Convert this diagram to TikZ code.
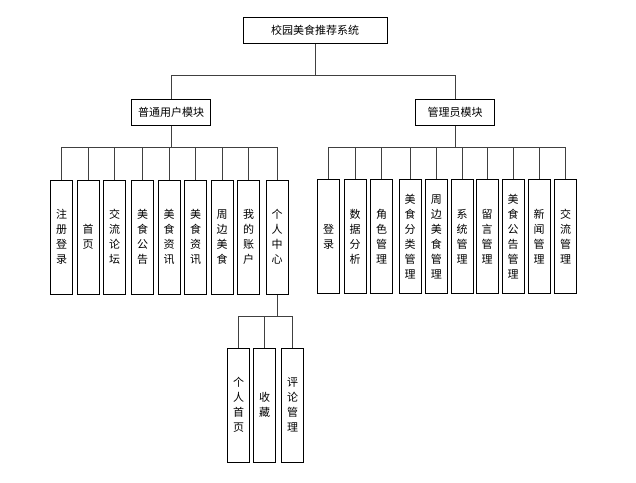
\documentclass[tikz,border=0pt]{standalone}
\usepackage{fontspec}
\newfontfamily\cjk{Noto Sans CJK SC}
\begin{document}
\begin{tikzpicture}[x=1pt,y=-1pt,
  box/.style={draw=black,line width=1pt,rectangle,inner sep=0pt,font=\cjk\fontsize{11}{15}\selectfont,align=center},
  topbox/.style={box,minimum width=144pt,minimum height=26pt},
  modbox/.style={box,minimum width=79pt,minimum height=26pt},
  leafbox/.style={box,minimum width=22pt,minimum height=114pt},
  conn/.style={draw=black!75,line width=0.9pt}]
\useasboundingbox (0,0) rectangle (636,482);
\node[topbox] (root) at (315,30.5) {校园美食推荐系统};
\node[modbox] (lm) at (171,112) {普通用户模块};
\node[modbox] (rm) at (455,112) {管理员模块};
\coordinate (topbus) at (315,75);
\coordinate (lbus) at (171,147);
\coordinate (rbus) at (455,147);
\coordinate (pbus) at (277,316);
% left children
\node[leafbox] (l1) at (61.5,237) {注\\册\\登\\录};
\node[leafbox] (l2) at (88,237) {首\\页};
\node[leafbox] (l3) at (114.7,237) {交\\流\\论\\坛};
\node[leafbox] (l4) at (142.5,237) {美\\食\\公\\告};
\node[leafbox] (l5) at (169,237) {美\\食\\资\\讯};
\node[leafbox] (l6) at (195.5,237) {美\\食\\资\\讯};
\node[leafbox] (l7) at (222,237) {周\\边\\美\\食};
\node[leafbox] (l8) at (248.7,237) {我\\的\\账\\户};
\node[leafbox] (l9) at (277,237) {个\\人\\中\\心};
% right children
\node[leafbox] (r1) at (328.5,236.5) {登\\录};
\node[leafbox] (r2) at (355,236.5) {数\\据\\分\\析};
\node[leafbox] (r3) at (381.5,236.5) {角\\色\\管\\理};
\node[leafbox] (r4) at (410,236.5) {美\\食\\分\\类\\管\\理};
\node[leafbox] (r5) at (436.3,236.5) {周\\边\\美\\食\\管\\理};
\node[leafbox] (r6) at (462,236.5) {系\\统\\管\\理};
\node[leafbox] (r7) at (487,236.5) {留\\言\\管\\理};
\node[leafbox] (r8) at (513,236.5) {美\\食\\公\\告\\管\\理};
\node[leafbox] (r9) at (539,236.5) {新\\闻\\管\\理};
\node[leafbox] (r10) at (565.5,236.5) {交\\流\\管\\理};
% personal centre children
\node[leafbox] (p1) at (238.5,405) {个\\人\\首\\页};
\node[leafbox] (p2) at (264.5,405) {收\\藏};
\node[leafbox] (p3) at (292.5,405) {评\\论\\管\\理};
% connectors
\draw[conn] (root.south) -- (topbus);
\draw[conn] (lm.north) |- (topbus);
\draw[conn] (rm.north) |- (topbus);
\draw[conn] (lm.south) -- (lbus);
\draw[conn] (rm.south) -- (rbus);
\foreach \n in {l1,l2,l3,l4,l5,l6,l7,l8,l9} {\draw[conn] (\n.north) |- (lbus);}
\foreach \n in {r1,r2,r3,r4,r5,r6,r7,r8,r9,r10} {\draw[conn] (\n.north) |- (rbus);}
\draw[conn] (l9.south) -- (pbus);
\foreach \n in {p1,p2,p3} {\draw[conn] (\n.north) |- (pbus);}
\end{tikzpicture}
\end{document}
